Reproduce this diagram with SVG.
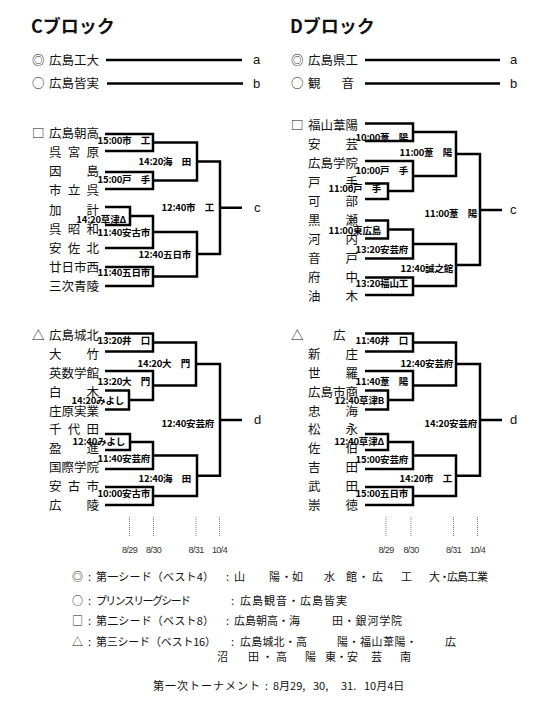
<svg xmlns="http://www.w3.org/2000/svg" width="540" height="720" viewBox="0 0 540 720">
<style>
text{font-family:"Noto Sans CJK JP","Noto Sans CJK SC",sans-serif;fill:#111}
.ttl{font-size:18px;font-weight:bold}
.t{font-size:12.5px}
.lb{font-size:9.5px;font-weight:bold;text-anchor:end;letter-spacing:-0.2px;fill:#000}
.ab{font-family:"Liberation Sans",Arial,sans-serif;font-size:13px}
.dt{font-family:"Liberation Sans",Arial,sans-serif;font-size:9px;text-anchor:middle;fill:#333;letter-spacing:-0.6px}
.lg{font-size:11px}
.ln{stroke:#000;stroke-width:2.5;fill:none}
.dot{stroke:#888;stroke-width:1;stroke-dasharray:1 1;fill:none}
</style>
<rect width="540" height="720" fill="#fff"/>

<text class="ttl" x="31" y="33">Cブロック</text>
<text class="ttl" x="290" y="33">Dブロック</text>

<g id="c-seeds-top">
<g id="c-a"><text class="t" x="32" y="64.5">◎</text><text class="t" x="49" y="64.5">広島工大</text></g>
<g id="c-b"><text class="t" x="32" y="88">○</text><text class="t" x="49" y="88">広島皆実</text></g>
<text class="ab" x="253" y="64">a</text><text class="ab" x="253" y="88">b</text>
</g>
<g id="d-seeds-top">
<g id="d-a"><text class="t" x="291" y="64.5">◎</text><text class="t" x="308" y="64.5">広島県工</text></g>
<g id="d-b"><text class="t" x="291" y="88">○</text><text class="t" x="308 341.5" y="88">観音</text></g>
<text class="ab" x="510" y="64">a</text><text class="ab" x="510" y="88">b</text>
</g>

<g id="c-teams">
<g id="c01"><text class="t" x="32" y="137.5">□</text><text class="t" x="49" y="137.5">広島朝高</text></g>
<g id="c02"><text class="t" x="49 67.75 86.5" y="156.5">呉宮原</text></g>
<g id="c03"><text class="t" x="49 86.5" y="175.5">因島</text></g>
<g id="c04"><text class="t" x="49 67.75 86.5" y="194.5">市立呉</text></g>
<g id="c05"><text class="t" x="49 86.5" y="214.5">加計</text></g>
<g id="c06"><text class="t" x="49 67.75 86.5" y="233.5">呉昭和</text></g>
<g id="c07"><text class="t" x="49 67.75 86.5" y="252.5">安佐北</text></g>
<g id="c08"><text class="t" x="49" y="271.5">廿日市西</text></g>
<g id="c09"><text class="t" x="49" y="290.5">三次青陵</text></g>
<g id="c10"><text class="t" x="32" y="339.5">△</text><text class="t" x="49" y="339.5">広島城北</text></g>
<g id="c11"><text class="t" x="49 86.5" y="358.5">大竹</text></g>
<g id="c12"><text class="t" x="49" y="377.5">英数学館</text></g>
<g id="c13"><text class="t" x="49 86.5" y="396.5">白木</text></g>
<g id="c14"><text class="t" x="49" y="415.5">庄原実業</text></g>
<g id="c15"><text class="t" x="49 67.75 86.5" y="433.5">千代田</text></g>
<g id="c16"><text class="t" x="49 86.5" y="452.5">盈進</text></g>
<g id="c17"><text class="t" x="49" y="471.5">国際学院</text></g>
<g id="c18"><text class="t" x="49 67.75 86.5" y="490.5">安古市</text></g>
<g id="c19"><text class="t" x="49 86.5" y="509.5">広陵</text></g>
</g>

<g id="d-teams">
<g id="d01"><text class="t" x="291" y="129.5">□</text><text class="t" x="308" y="129.5">福山葦陽</text></g>
<g id="d02"><text class="t" x="308 345.5" y="148.5">安芸</text></g>
<g id="d03"><text class="t" x="308" y="167.5">広島学院</text></g>
<g id="d04"><text class="t" x="308 345.5" y="186.5">戸手</text></g>
<g id="d05"><text class="t" x="308 345.5" y="205.5">可部</text></g>
<g id="d06"><text class="t" x="308 345.5" y="224.5">黒瀬</text></g>
<g id="d07"><text class="t" x="308 345.5" y="243.5">河内</text></g>
<g id="d08"><text class="t" x="308 345.5" y="262.5">音戸</text></g>
<g id="d09"><text class="t" x="308 345.5" y="281.5">府中</text></g>
<g id="d10"><text class="t" x="308 345.5" y="300.5">油木</text></g>
<g id="d11"><text class="t" x="291" y="339.5">△</text><text class="t" x="333" y="339.5">広</text></g>
<g id="d12"><text class="t" x="308 345.5" y="358.5">新庄</text></g>
<g id="d13"><text class="t" x="308 345.5" y="377.5">世羅</text></g>
<g id="d14"><text class="t" x="308" y="396.5">広島市商</text></g>
<g id="d15"><text class="t" x="308 345.5" y="415.5">忠海</text></g>
<g id="d16"><text class="t" x="308 345.5" y="433.5">松永</text></g>
<g id="d17"><text class="t" x="308 345.5" y="452.5">佐伯</text></g>
<g id="d18"><text class="t" x="308 345.5" y="471.5">吉田</text></g>
<g id="d19"><text class="t" x="308 345.5" y="490.5">武田</text></g>
<g id="d20"><text class="t" x="308 345.5" y="509.5">崇徳</text></g>
</g>

<g id="connectors">
<path class="ln" d="M106 60H242M107 83.5H243M365 60H500M365 83.5H500"/>
<path class="ln" d="M105 134H153V151H105M105 172H153V189H105M153 142.5H197V180.5H153M105 207H130V225H105M130 216H153V248H105M105 267H153V286H105M153 232H197V276.5H153M197 161.5H220V254H197M220 207.75H242"/>
<path class="ln" d="M105 333.5H153V351.5H105M105 390.5H129V409.5H105M129 400H153V371H105M153 342.5H196V385.5H153M196 364H220V475.75H197M220 420H242M105 434H130V450H105M130 442H153V469H105M105 487H153V505H105M153 455.5H197V496H153"/>
<path class="ln" d="M365 123.5H413V141H365M365 183.5H388V199H365M388 191H413V161H365M413 132H456V176H413M456 154H480V265H456M365 220.5H388V238.5H365M388 229.5H413V258.5H365M365 277.5H413V295H365M413 244H456V286H413M480 210H502"/>
<path class="ln" d="M365 333.5H413V351.5H365M365 390.5H388V409.5H365M388 400H413V371H365M413 342.5H456V385.5H413M456 364H480V475.75H456M365 434H388V450H365M388 442H413V469H365M365 487H413V505H365M413 455.5H456V496H413M480 420H502"/>
<path class="dot" d="M129.5 517V537M153.5 517V537M196 517V537M219.5 517V537M386 517V537M411 517V537M453.5 517V537M477.5 517V537"/>
</g>

<g id="c-labels">
<text class="lb" x="150" y="144">15:00市　工</text>
<text class="lb" x="150" y="183">15:00戸　手</text>
<text class="lb" x="191" y="165">14:20海　田</text>
<text class="lb" x="126" y="222.5">14:20草津Δ</text>
<text class="lb" x="150" y="235.5">11:40安古市</text>
<text class="lb" x="150" y="276">11:40五日市</text>
<text class="lb" x="191" y="257.5">12:40五日市</text>
<text class="lb" x="214" y="210.5">12:40市　工</text>
<text class="ab" x="254" y="211.5">c</text>
<text class="lb" x="150" y="343.5">13:20井　口</text>
<text class="lb" x="124" y="403.5">14:20みよし</text>
<text class="lb" x="150" y="385">13:20大　門</text>
<text class="lb" x="190" y="366.5">14:20大　門</text>
<text class="lb" x="125" y="444.5">12:40みよし</text>
<text class="lb" x="150" y="461.5">11:40安芸府</text>
<text class="lb" x="150" y="497">10:00安古市</text>
<text class="lb" x="191" y="481.5">12:40海　田</text>
<text class="lb" x="214" y="426.5">12:40安芸府</text>
<text class="ab" x="254" y="424">d</text>
</g>

<g id="d-labels">
<text class="lb" x="408" y="141">10:00葦　陽</text>
<text class="lb" x="381" y="191.5">11:00戸　手</text>
<text class="lb" x="408" y="173.5">10:00戸　手</text>
<text class="lb" x="452" y="156">11:00葦　陽</text>
<text class="lb" x="381" y="234">11:00東広島</text>
<text class="lb" x="408" y="253">13:20安芸府</text>
<text class="lb" x="408" y="287">13:20福山工</text>
<text class="lb" x="453" y="272">12:40誠之館</text>
<text class="lb" x="477" y="216.5">11:00葦　陽</text>
<text class="ab" x="510" y="214">c</text>
<text class="lb" x="408" y="343.5">11:40井　口</text>
<text class="lb" x="384" y="404">12:40草津B</text>
<text class="lb" x="408" y="384.5">11:40葦　陽</text>
<text class="lb" x="453" y="367">12:40安芸府</text>
<text class="lb" x="384" y="444.5">12:40草津Δ</text>
<text class="lb" x="408" y="462.5">15:00安芸府</text>
<text class="lb" x="408" y="497">15:00五日市</text>
<text class="lb" x="452" y="481.5">14:20市　工</text>
<text class="lb" x="477" y="426.5">14:20安芸府</text>
<text class="ab" x="510" y="424">d</text>
</g>

<g id="dates">
<text class="dt" x="129.5" y="553">8/29</text><text class="dt" x="153.5" y="553">8/30</text>
<text class="dt" x="196" y="553">8/31</text><text class="dt" x="219.5" y="553">10/4</text>
<text class="dt" x="386" y="553">8/29</text><text class="dt" x="411" y="553">8/30</text>
<text class="dt" x="453.5" y="553">8/31</text><text class="dt" x="477.5" y="553">10/4</text>
</g>

<g id="legend">
<text class="lg" x="72" y="581">◎</text><text class="lg" x="88" y="581">:</text>
<text class="lg" x="96" y="581" textLength="118" lengthAdjust="spacing">第一シード（ベスト4）</text>
<text class="lg" x="226" y="581">:</text>
<text class="lg" x="234 269 281 292 324 346 358 372 401 429 439 447 457 467 477" y="581">山陽・如水館・広工大・広島工業</text>

<text class="lg" x="72" y="605">○</text><text class="lg" x="88" y="605">:</text>
<text class="lg" x="96" y="605" textLength="95" lengthAdjust="spacing">プリンスリーグシード</text>
<text class="lg" x="231" y="605">:</text>
<text class="lg" x="240" y="605" textLength="107" lengthAdjust="spacing">広島観音・広島皆実</text>

<text class="lg" x="72" y="625">□</text><text class="lg" x="88" y="625">:</text>
<text class="lg" x="96" y="625" textLength="118" lengthAdjust="spacing">第二シード（ベスト8）</text>
<text class="lg" x="226" y="625">:</text>
<text class="lg" x="234" y="625" textLength="66" lengthAdjust="spacing">広島朝高・海</text>
<text class="lg" x="332" y="625" textLength="70" lengthAdjust="spacing">田・銀河学院</text>

<text class="lg" x="72" y="646">△</text><text class="lg" x="88" y="646">:</text>
<text class="lg" x="96" y="646" textLength="120" lengthAdjust="spacing">第三シード（ベスト16）</text>
<text class="lg" x="231" y="646">:</text>
<text class="lg" x="240" y="646" textLength="67" lengthAdjust="spacing">広島城北・高</text>
<text class="lg" x="337" y="646" textLength="80" lengthAdjust="spacing">陽・福山葦陽・</text>
<text class="lg" x="445" y="646">広</text>
<text class="lg" x="217" y="661">沼</text>
<text class="lg" x="248" y="661" textLength="39" lengthAdjust="spacing">田・高</text>
<text class="lg" x="305" y="661">陽</text>
<text class="lg" x="325" y="661" textLength="33" lengthAdjust="spacing">東・安</text>
<text class="lg" x="371" y="661">芸</text>
<text class="lg" x="400" y="661">南</text>

<text class="lg" x="153" y="690" textLength="107" lengthAdjust="spacing">第一次トーナメント</text>
<text class="lg" x="265" y="690">:</text>
<text class="lg" x="273" y="690">8月29,</text>
<text class="lg" x="313" y="690">30,</text>
<text class="lg" x="341" y="690">31.</text>
<text class="lg" x="364" y="690">10月4日</text>
</g>
</svg>
